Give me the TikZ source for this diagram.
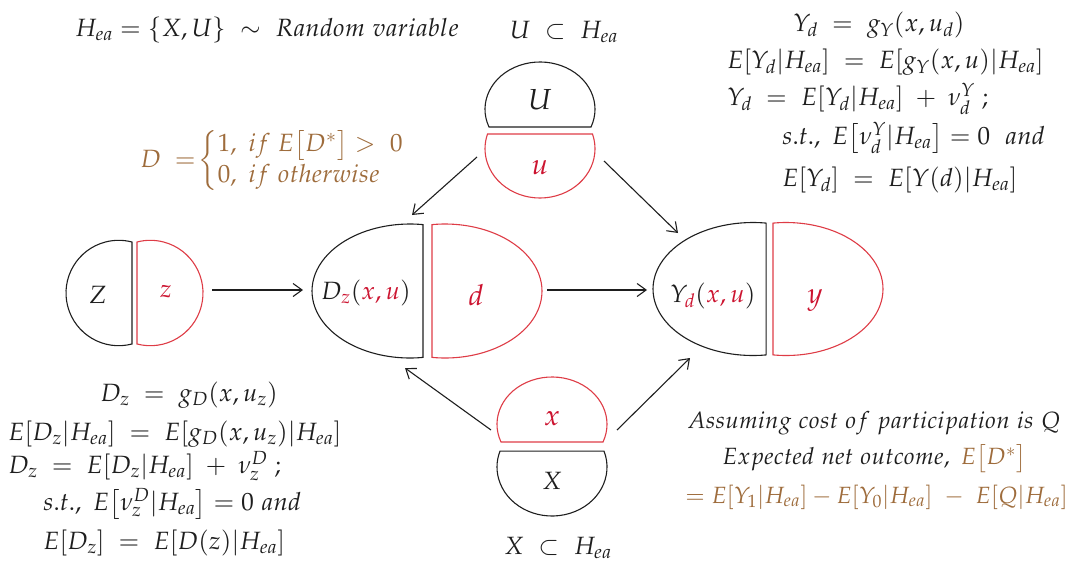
\documentclass[tikz,border=0pt]{standalone}
\usepackage{amsmath}
\usepackage{mathpazo}
\usetikzlibrary{arrows.meta}
\definecolor{myred}{RGB}{204,20,48}
\definecolor{linered}{RGB}{222,60,70}
\definecolor{mybrown}{RGB}{158,108,60}
\definecolor{ink}{RGB}{30,30,30}
\begin{document}
\begin{tikzpicture}[x=1pt,y=-1pt,
  every node/.style={inner sep=0pt, text=ink, font=\fontsize{25}{30}\selectfont},
  big/.style={font=\fontsize{29}{32}\selectfont},
  small/.style={font=\fontsize{23.5}{28}\selectfont},
  blk/.style={draw=ink, line width=1.1pt},
  rd/.style={draw=linered, line width=1.1pt},
  arr/.style={draw=ink, line width=1.1pt, -{Straight Barb[length=9pt,width=13pt]}},
  redtxt/.style={text=myred},
  browntxt/.style={text=mybrown}
]
\useasboundingbox (0,0) rectangle (1086,562);

% --- half-shapes ---
\draw[blk] (118.7,293) ++(75.4:52.7) arc[start angle=75.4, end angle=284.6, radius=52.7] -- cycle;
\draw[rd]  (150.3,293) ++(104.6:52.7) arc[start angle=104.6, end angle=-104.6, radius=52.7] -- cycle;
\draw[blk] (410,291) ++(82.4:98 and 67) arc[start angle=82.4, end angle=277.6, x radius=98, y radius=67] -- cycle;
\draw[rd]  (445,291) ++(97.7:97 and 67) arc[start angle=97.7, end angle=-97.7, x radius=97, y radius=67] -- cycle;
\draw[blk] (753,289) ++(82.5:100 and 66.5) arc[start angle=82.5, end angle=277.5, x radius=100, y radius=66.5] -- cycle;
\draw[rd]  (786,289) ++(97.7:97 and 66.5) arc[start angle=97.7, end angle=-97.7, x radius=97, y radius=66.5] -- cycle;
\draw[blk] (540,109.3) ++(158:55 and 47.3) arc[start angle=158, end angle=382, x radius=55, y radius=47.3] -- cycle;
\draw[rd]  (540,148.7) ++(-17.3:55 and 49.3) arc[start angle=-17.3, end angle=197.3, x radius=55, y radius=49.3] -- cycle;
\draw[rd]  (552,424.3) ++(158:55 and 47.3) arc[start angle=158, end angle=382, x radius=55, y radius=47.3] -- cycle;
\draw[blk] (552,467) ++(-19:55 and 49) arc[start angle=-19, end angle=199, x radius=55, y radius=49] -- cycle;

% --- labels inside shapes ---
\node (Zt) at (98,295) {$Z$};
\node[redtxt] (zt) at (166,292) {$z$};
\node (Dt) at (366,293) {$D_{\textcolor{myred}{z}}(\textcolor{myred}{x, u})$};
\node[redtxt, big] (dt) at (476,295) {$d$};
\node (Yt) at (713,296) {$Y_{\textcolor{myred}{d}}(\textcolor{myred}{x, u})$};
\node[redtxt, big] (yt) at (815,300) {$y$};
\node[big] (Ut) at (540,100) {$U$};
\node[redtxt, big] (ut) at (540,168) {$u$};
\node[redtxt, big] (xt) at (552,419) {$x$};
\node (Xt) at (552,481) {$X$};

% --- connectors ---
\coordinate (a1) at (212,290); \coordinate (a2) at (303,290);
\coordinate (b1) at (547,290); \coordinate (b2) at (647,290);
\coordinate (c1) at (477,157); \coordinate (c2) at (412,215);
\coordinate (e1) at (604,161); \coordinate (e2) at (678,233);
\coordinate (f1) at (491,430); \coordinate (f2) at (405,368);
\coordinate (g1) at (617,430); \coordinate (g2) at (690,358);
\draw[arr] (a1) -- (a2);
\draw[arr] (b1) -- (b2);
\draw[arr] (c1) -- (c2);
\draw[arr] (e1) -- (e2);
\draw[arr] (f1) -- (f2);
\draw[arr] (g1) -- (g2);

% --- texts ---
\node[anchor=west] (hea) at (75,30) {$H_{ea} = \{X, U\}\ \sim\ Random\ variable$};
\node (usub) at (564,32) {$U\ \subset\ H_{ea}$};
\node (xsub) at (558,548) {$X\ \subset\ H_{ea}$};

\node[anchor=west, browntxt] (dd) at (140,161) {$D\;=\!\left\{\begin{array}{@{}l@{}}1,\ if\ E\big[D^*\big]>\ 0\\[1pt] 0,\ if\ otherwise\end{array}\right.$};

\node[anchor=west] (r1) at (793,25) {$Y_d\;=\;g_Y(x,u_d)$};
\node[anchor=west] (r2) at (727,62) {$E[Y_d|H_{ea}]\;=\;E[g_Y(x,u)|H_{ea}]$};
\node[anchor=west] (r3) at (727,99) {$Y_d\;=\;E[Y_d|H_{ea}]\;+\;\nu_d^Y\;;$};
\node[anchor=west] (r4) at (782,138) {$s.t.,\ E\big[\nu_d^Y|H_{ea}\big] = 0\ \ and$};
\node[anchor=west] (r5) at (782,180) {$E[Y_d]\;=\;E[Y(d)|H_{ea}]$};

\node[anchor=west] (l1) at (100,395) {$D_z\;=\;g_D(x,u_z)$};
\node[anchor=west] (l2) at (8,434) {$E[D_z|H_{ea}]\;=\;E[g_D(x,u_z)|H_{ea}]$};
\node[anchor=west] (l3) at (8,466) {$D_z\;=\;E[D_z|H_{ea}]\;+\;\nu_z^D\;;$};
\node[anchor=west] (l4) at (43,504) {$s.t.,\ E\big[\nu_z^D|H_{ea}\big] = 0\ and$};
\node[anchor=west] (l5) at (43,543) {$E[D_z]\;=\;E[D(z)|H_{ea}]$};

\node[anchor=west, small] (br1) at (687,423) {$Assuming\ cost\ of\ participation\ is\ Q$};
\node[anchor=west, small] (br2) at (722,459) {$Expected\ net\ outcome,\ \textcolor{mybrown}{E\big[D^*\big]}$};
\node[anchor=west, small, browntxt] (br3) at (685,497) {$=E[Y_1|H_{ea}]-E[Y_0|H_{ea}]\ -\ E[Q|H_{ea}]$};
\end{tikzpicture}
\end{document}
